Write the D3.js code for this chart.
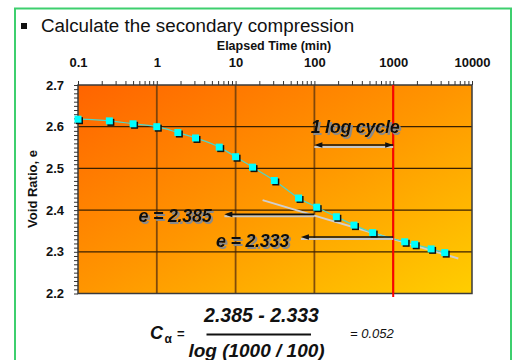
<!DOCTYPE html>
<html>
<head>
<meta charset="utf-8">
<script src="https://cdn.jsdelivr.net/npm/d3@7"></script>
<style>
  html, body { margin: 0; padding: 0; background: #fff; }
  svg { display: block; font-family: Arial, "Liberation Sans", sans-serif; }
</style>
</head>
<body>
<script>
// ********************************** //
// ** Data
// ********************************** //
const times = [0.1, 0.25, 0.5, 1, 1.85, 3.1, 6.2, 10, 16.4, 31, 63, 107, 190, 318, 549, 1400, 1876, 3030, 4510];
const voidRatio = [2.618, 2.614, 2.607, 2.6, 2.586, 2.573, 2.551, 2.528, 2.503, 2.471, 2.429, 2.407, 2.384, 2.364, 2.346, 2.324, 2.318, 2.307, 2.298];
const decadeTicks = [0.1, 1, 10, 100, 1000, 10000];
const yTicks = [2.2, 2.3, 2.4, 2.5, 2.6, 2.7];
// secondary compression tangent (time, e)
const tangentTimes = [22, 6700];
const tangentE = [2.424, 2.284];
const e100 = 2.385;
const e1000 = 2.333;
const t100 = 100;
const t1000 = 1000;

const FONT = "Arial, 'Liberation Sans', sans-serif";
const width = 519, height = 360;
const svg = d3.select("body").append("svg")
  .attr("width", width).attr("height", height);

const defs = svg.append("defs");
// soft grey drop shadow for the call-out texts
const shadow = defs.append("filter").attr("id", "shadow")
  .attr("x", "-10%").attr("y", "-30%").attr("width", "130%").attr("height", "170%");
shadow.append("feDropShadow")
  .attr("dx", 2).attr("dy", 2).attr("stdDeviation", 0.6)
  .attr("flood-color", "#8a8a8a").attr("flood-opacity", 1);

// ********************************** //
// ** Slide frame + title
// ********************************** //
svg.append("rect")
  .attr("x", 15).attr("y", 8.5)
  .attr("width", 496).attr("height", 380)
  .attr("fill", "none").attr("stroke", "#3ecf6e").attr("stroke-width", 2);

svg.append("rect").attr("x", 21).attr("y", 23).attr("width", 6).attr("height", 6).attr("fill", "#111");
svg.append("text").attr("x", 41).attr("y", 32)
  .attr("font-size", 18.8).attr("fill", "#111")
  .text("Calculate the secondary compression");

// ********************************** //
// ** Scales
// ********************************** //
const x = d3.scaleLog().domain([0.1, 10000]).range([78, 472]);
const y = d3.scaleLinear().domain([2.2, 2.7]).range([293.5, 85]);

// gradient background
const grad = defs.append("linearGradient").attr("id", "bg")
  .attr("x1", 0).attr("y1", 0).attr("x2", 1).attr("y2", 1);
grad.append("stop").attr("offset", "0%").attr("stop-color", "#ff6400");
grad.append("stop").attr("offset", "50%").attr("stop-color", "#ff9600");
grad.append("stop").attr("offset", "100%").attr("stop-color", "#ffce00");

svg.append("rect")
  .attr("x", x(0.1)).attr("y", y(2.7))
  .attr("width", x(10000) - x(0.1)).attr("height", y(2.2) - y(2.7))
  .attr("fill", "url(#bg)");

// gridlines
svg.append("g").selectAll("line")
  .data(decadeTicks.slice(1, -1))
  .join("line")
  .attr("x1", d => x(d)).attr("x2", d => x(d))
  .attr("y1", y(2.7)).attr("y2", y(2.2))
  .attr("stroke", "#6b3c0c").attr("stroke-width", 1.8).attr("opacity", 0.85);

svg.append("g").selectAll("line")
  .data(yTicks.slice(1, -1))
  .join("line")
  .attr("x1", x(0.1)).attr("x2", x(10000))
  .attr("y1", d => y(d)).attr("y2", d => y(d))
  .attr("stroke", "#3a2000").attr("stroke-width", 1.3);

svg.append("rect")
  .attr("x", x(0.1)).attr("y", y(2.7))
  .attr("width", x(10000) - x(0.1)).attr("height", y(2.2) - y(2.7))
  .attr("fill", "none").attr("stroke", "#3a3a3a").attr("stroke-width", 1.5);

// ********************************** //
// ** Axes
// ********************************** //
const minorTimes = [];
decadeTicks.slice(0, -1).forEach(d => {
  for (let k = 1; k < 10; k++) minorTimes.push(d * k);
});
minorTimes.push(10000);

const topAxis = svg.append("g")
  .attr("transform", `translate(0,${y(2.7)})`)
  .call(d3.axisTop(x).tickValues(minorTimes).tickSize(4).tickPadding(14)
    .tickFormat(d => decadeTicks.some(t => Math.abs(t - d) / t < 1e-9) ? d3.format("~g")(d) : ""));
topAxis.attr("font-family", FONT).attr("font-size", 13);
topAxis.select(".domain").remove();
topAxis.selectAll("line").attr("stroke", "#333");
topAxis.selectAll("text").style("font-size", "13px").attr("font-weight", "bold").attr("fill", "#111");

const minorE = d3.range(0, 51).map(i => +(2.2 + i * 0.01).toFixed(2));
const leftAxis = svg.append("g")
  .attr("transform", `translate(${x(0.1)},0)`)
  .call(d3.axisLeft(y).tickValues(minorE).tickSize(4).tickPadding(10)
    .tickFormat(d => yTicks.some(t => Math.abs(t - d) < 1e-6) ? d3.format(".1f")(d) : ""));
leftAxis.attr("font-family", FONT).attr("font-size", 13);
leftAxis.select(".domain").remove();
leftAxis.selectAll("line").attr("stroke", "#333");
leftAxis.selectAll("text").style("font-size", "13px").attr("font-weight", "bold").attr("fill", "#111");

svg.append("text")
  .attr("x", 274).attr("y", 50)
  .attr("text-anchor", "middle").attr("font-size", 12.5).attr("font-weight", "bold")
  .attr("fill", "#111")
  .text("Elapsed Time (min)");

svg.append("text")
  .attr("transform", "translate(37,189) rotate(-90)")
  .attr("text-anchor", "middle").attr("font-size", 13).attr("font-weight", "bold")
  .attr("fill", "#111")
  .text("Void Ratio, e");

// ********************************** //
// ** Data marks
// ********************************** //
const pts = times.map((t, i) => ({ t, e: voidRatio[i] }));

// tangent line
svg.append("line")
  .attr("x1", x(tangentTimes[0])).attr("y1", y(tangentE[0]))
  .attr("x2", x(tangentTimes[1])).attr("y2", y(tangentE[1]))
  .attr("stroke", "#cfcfcf").attr("stroke-width", 2);

svg.append("path")
  .datum(pts)
  .attr("d", d3.line().x(d => x(d.t)).y(d => y(d.e)).curve(d3.curveMonotoneX))
  .attr("fill", "none").attr("stroke", "#4fd6c8").attr("stroke-width", 1.2);

// shadows then markers
svg.append("g").selectAll("rect")
  .data(pts)
  .join("rect")
  .attr("x", d => x(d.t) - 2).attr("y", d => y(d.e) - 2)
  .attr("width", 7).attr("height", 7)
  .attr("fill", "#111");
svg.append("g").selectAll("rect")
  .data(pts)
  .join("rect")
  .attr("x", d => x(d.t) - 3.5).attr("y", d => y(d.e) - 3.5)
  .attr("width", 7).attr("height", 7)
  .attr("fill", "#00ffff");

// red line at t = 1000
svg.append("line")
  .attr("x1", x(t1000)).attr("x2", x(t1000))
  .attr("y1", y(2.7)).attr("y2", y(2.2) + 3.5)
  .attr("stroke", "#ff0000").attr("stroke-width", 2);

// ********************************** //
// ** Annotations
// ********************************** //
const arrow = (xa, xb, yy, heads) => {
  const g = svg.append("g");
  g.append("line").attr("x1", xa).attr("x2", xb).attr("y1", yy + 2).attr("y2", yy + 2)
    .attr("stroke", "#c8c8c8").attr("stroke-width", 2);
  g.append("line").attr("x1", xa + 3).attr("x2", xb).attr("y1", yy).attr("y2", yy)
    .attr("stroke", "#111").attr("stroke-width", 1.6);
  heads.forEach(h => {
    const dir = h === xa ? 1 : -1;
    g.append("path")
      .attr("d", `M${h},${yy} L${h + dir * 8},${yy - 2.8} L${h + dir * 8},${yy + 2.8} Z`)
      .attr("fill", "#111");
  });
};

const shadowText = (tx, ty, str, size) => {
  svg.append("text")
    .attr("x", tx).attr("y", ty)
    .attr("text-anchor", "middle").attr("font-size", size)
    .attr("font-weight", "bold").attr("font-style", "italic")
    .attr("letter-spacing", -0.3)
    .attr("fill", "#111")
    .attr("filter", "url(#shadow)")
    .text(str);
};

arrow(x(7.2), x(t100), y(e100) - 2, [x(7.2)]);
arrow(x(67.5), x(t1000), y(e1000) - 1, [x(67.5)]);
arrow(x(t100), x(t1000), y(2.556), [x(t100), x(t1000)]);

shadowText(175, 221.5, `e = ${e100}`, 18);
shadowText(252.5, 246.5, `e = ${e1000}`, 18);
shadowText(355, 133, "1 log cycle", 18);

// ********************************** //
// ** Formula
// ********************************** //
const formula = svg.append("g").attr("fill", "#111")
  .attr("font-weight", "bold").attr("font-style", "italic");
formula.append("text").attr("x", 150).attr("y", 339).attr("font-size", 18).text("C");
formula.append("text").attr("x", 164.5).attr("y", 343).attr("font-size", 12).attr("font-style", "normal").text("α");
formula.append("text").attr("x", 177).attr("y", 338).attr("font-size", 13).attr("font-style", "normal").text("=");
formula.append("text").attr("x", 261.5).attr("y", 321.5).attr("font-size", 19.5)
  .attr("text-anchor", "middle").text(`${e100} - ${e1000}`);
formula.append("line").attr("x1", 206.5).attr("x2", 311).attr("y1", 334.5).attr("y2", 334.5)
  .attr("stroke", "#111").attr("stroke-width", 2);
formula.append("text").attr("x", 256.5).attr("y", 357).attr("font-size", 19)
  .attr("text-anchor", "middle").text(`log (${t1000} / ${t100})`);
formula.append("text").attr("x", 350).attr("y", 338).attr("font-size", 13)
  .attr("font-weight", "normal").text(`= ${d3.format(".3f")((e100 - e1000) / Math.log10(t1000 / t100))}`);
</script>
</body>
</html>
